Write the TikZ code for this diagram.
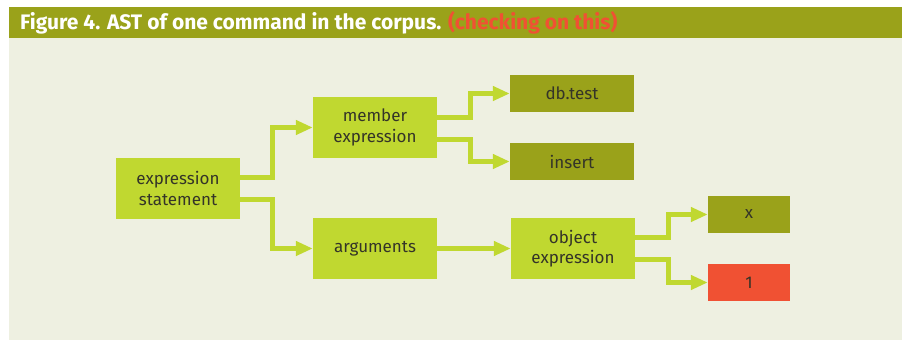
\documentclass[tikz,border=0pt]{standalone}
\usepackage{fontspec}
\setmainfont{Fira Sans}
\usepackage{xcolor}
\usetikzlibrary{arrows.meta}
\definecolor{olive1}{RGB}{154,162,26}
\definecolor{lime1}{RGB}{192,216,48}
\definecolor{paper1}{RGB}{238,240,225}
\definecolor{red1}{RGB}{240,81,51}
\definecolor{ink1}{RGB}{52,52,40}

\begin{document}
\begin{tikzpicture}[x=1pt, y=-1pt,
  every node/.style={font=\fontsize{17}{20.5}\selectfont, text=ink1, inner sep=0pt, align=center},
  lightbox/.style={fill=lime1, minimum width=124pt, minimum height=61pt},
  darkbox/.style={fill=olive1, minimum width=124pt, minimum height=37pt},
  leafbox/.style={fill=#1, minimum width=82pt, minimum height=37pt},
  link/.style={lime1, line width=5pt, -{Triangle[length=17pt, width=14pt]}}]

\useasboundingbox (0,0) rectangle (902,340);

% BACKGROUND AND TITLE BAR
\fill[paper1] (9,37) rectangle (902,340);
\fill[olive1] (9,7) rectangle (902,38);
\node[anchor=west, text=white, font=\fontsize{21}{24}\bfseries] (title) at (20,22.5)
  {Figure 4. AST of one command in the corpus. \textcolor{red1}{(checking on this)}};

% Tree nodes
\node[lightbox] (stmt)   at (178,188.5) {expression\\statement};
\node[lightbox] (member) at (375,127.5) {member\\expression};
\node[lightbox] (args)   at (375,248.5) {arguments};
\node[darkbox]  (dbtest) at (572,93.5)  {db.test};
\node[darkbox]  (insert) at (572,161.5) {insert};
\node[lightbox] (object) at (573,248.5) {object\\expression};
\node[leafbox=olive1] (xkey) at (749,214.5) {x};
\node[leafbox=red1]   (one)  at (749,282.5) {1};

% Connectors
\draw[link] ([yshift=11.5pt]stmt.east) -- ++(32,0) |- (member.west);
\draw[link] ([yshift=-10.5pt]stmt.east) -- ++(32,0) |- (args.west);
\draw[link] ([yshift=10.5pt]member.east) -- ++(33,0) |- (dbtest.west);
\draw[link] ([yshift=-11.5pt]member.east) -- ++(33,0) |- (insert.west);
\draw[link] (args) -- (object);
\draw[link] ([yshift=11.5pt]object.east) -- ++(33,0) |- (xkey.west);
\draw[link] ([yshift=-10.5pt]object.east) -- ++(33,0) |- (one.west);

\end{tikzpicture}
\end{document}
